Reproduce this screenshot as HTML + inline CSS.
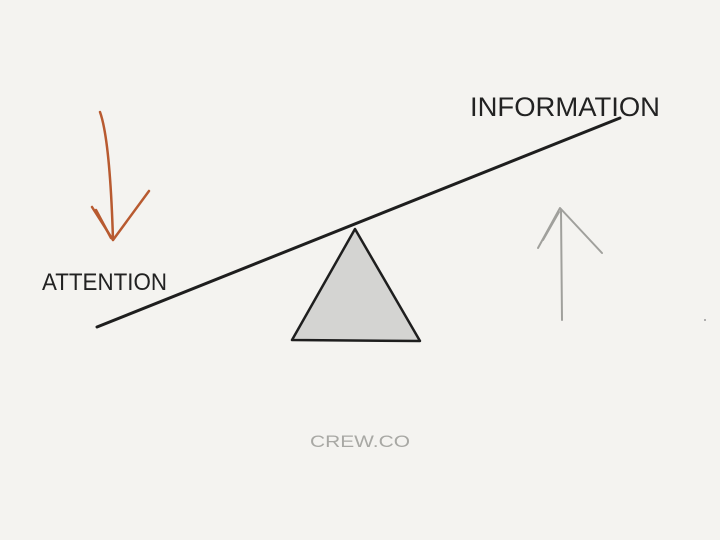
<!DOCTYPE html>
<html><head><style>
html,body{margin:0;padding:0;background:#f4f3f0;}
svg{display:block}
</style></head><body>
<svg width="720" height="540" viewBox="0 0 720 540" xmlns="http://www.w3.org/2000/svg">
<rect width="720" height="540" fill="#f4f3f0"/>
<!-- beam -->
<path d="M97 327 L620 118" stroke="#1e1e1e" stroke-width="3" fill="none" stroke-linecap="round"/>
<!-- fulcrum -->
<polygon points="355,229 292,340 420,341" fill="#d4d4d2" stroke="#1e1e1e" stroke-width="2.5" stroke-linejoin="round"/>
<!-- orange arrow -->
<g stroke="#b85a30" stroke-width="2.5" fill="none" stroke-linecap="round" stroke-linejoin="round">
<path d="M100 112 Q110 140 113 240"/>
<path d="M92 207 L113 240 L149 191"/>
<path d="M96 210 L111 238"/>
</g>
<!-- gray arrow -->
<g stroke="#a0a09c" stroke-width="2" fill="none" stroke-linecap="round" stroke-linejoin="round">
<path d="M562 320 L561 210"/>
<path d="M538 248 L560 208 L602 253"/>
<path d="M543 240 L559 212"/>
</g>
<text x="42" y="290" font-family="Liberation Sans, sans-serif" font-size="24" fill="#222" textLength="125" lengthAdjust="spacingAndGlyphs">ATTENTION</text>
<text x="470" y="116" font-family="Liberation Sans, sans-serif" font-size="27" fill="#222" textLength="190" lengthAdjust="spacingAndGlyphs">INFORMATION</text>
<text x="310" y="447" font-family="Liberation Sans, sans-serif" font-size="17" fill="#a8a8a4" textLength="100" lengthAdjust="spacingAndGlyphs">CREW.CO</text>
<circle cx="705" cy="320" r="1" fill="#999"/>
</svg>
</body></html>
